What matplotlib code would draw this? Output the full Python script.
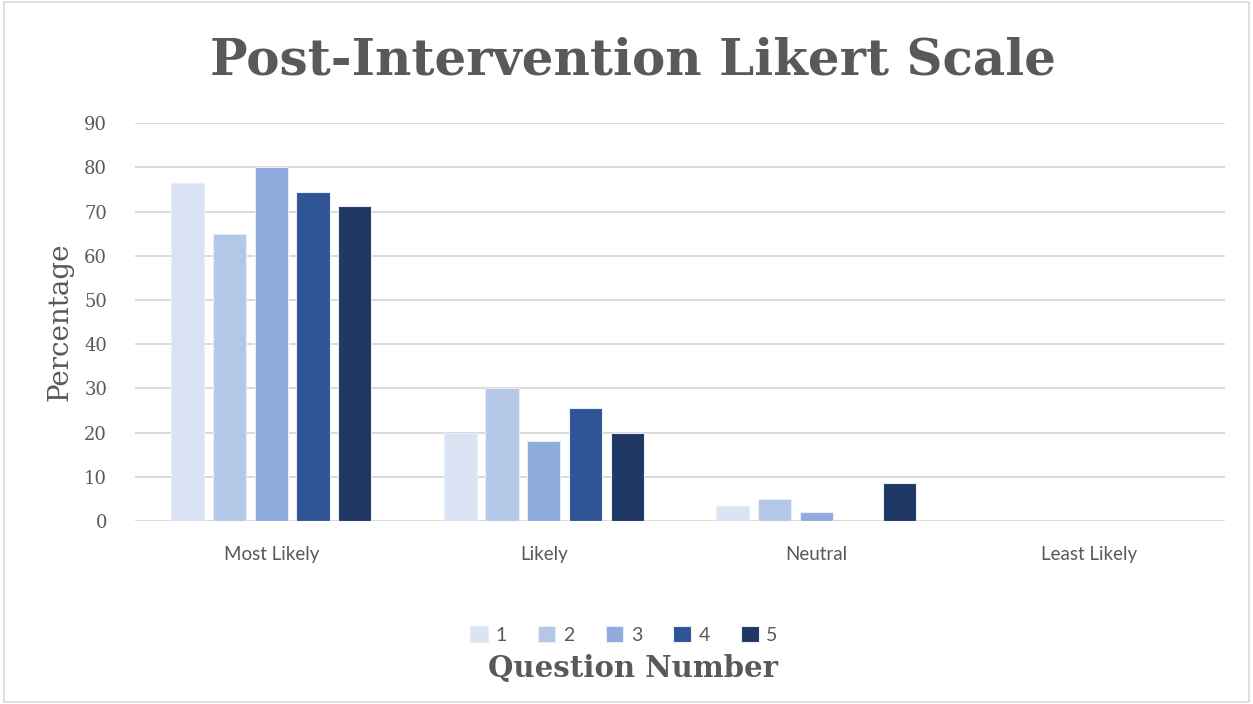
import numpy as np
import matplotlib.pyplot as plt
from matplotlib.patches import Rectangle

categories = ['Most Likely', 'Likely', 'Neutral', 'Least Likely']
questions = ['1', '2', '3', '4', '5']
q1 = [76.5, 20, 3.3, 0]
q2 = [65, 30, 5, 0]
q3 = [80, 18, 2, 0]
q4 = [74.5, 25.5, 0, 0]
q5 = [71.2, 20, 8.7, 0]
colors = ['#DAE3F3', '#B4C7E7', '#8FAADC', '#2F5597', '#203864']

series = [q1, q2, q3, q4, q5]
txt = '#595959'

fig = plt.figure(figsize=(12.53, 7.04), dpi=100)
ax = fig.add_axes([0.1077, 0.26, 0.87, 0.565])

x = np.arange(len(categories))
step = 0.153
w = 0.122
for i, vals in enumerate(series):
    ax.bar(x + (i - 2) * step, vals, width=w, color=colors[i],
           edgecolor='#E8EDF6', linewidth=0.8, label=questions[i], zorder=3)

ax.set_xlim(-0.5, 3.5)
ax.set_ylim(0, 90)
ax.set_yticks(np.arange(0, 91, 10))
ax.grid(axis='y', color='#D9D9D9', linewidth=1.4, zorder=0)
for s in ax.spines.values():
    s.set_visible(False)
ax.tick_params(length=0)
ax.set_xticks(x)
ax.set_xticklabels(categories, fontfamily='Lato', fontsize=13.5, color=txt)
for lab in ax.get_yticklabels():
    lab.set_fontfamily('DejaVu Serif')
    lab.set_fontsize(13)
    lab.set_color(txt)
ax.tick_params(axis='x', pad=18)
ax.tick_params(axis='y', pad=20)

ax.set_ylabel('Percentage', fontfamily='DejaVu Serif', fontsize=20, color=txt, labelpad=8)

fig.text(0.505, 0.913, 'Post-Intervention Likert Scale', ha='center', va='center',
         fontfamily='DejaVu Serif', fontweight='bold', fontsize=36, color=txt)
fig.text(0.505, 0.05, 'Question Number', ha='center', va='center',
         fontfamily='DejaVu Serif', fontweight='bold', fontsize=21, color=txt)

fig.legend(loc='center', bbox_to_anchor=(0.498, 0.098), ncol=5, frameon=False,
           prop={'family': 'Lato', 'size': 14}, labelcolor=txt,
           handlelength=0.9, handleheight=0.9, handletextpad=0.4, columnspacing=1.6)

fig.patches.append(Rectangle((0.003, 0.003), 0.994, 0.994, transform=fig.transFigure,
                             fill=False, edgecolor='#D9D9D9', linewidth=1.2))

fig.savefig('out.png', dpi=100, facecolor='white')
